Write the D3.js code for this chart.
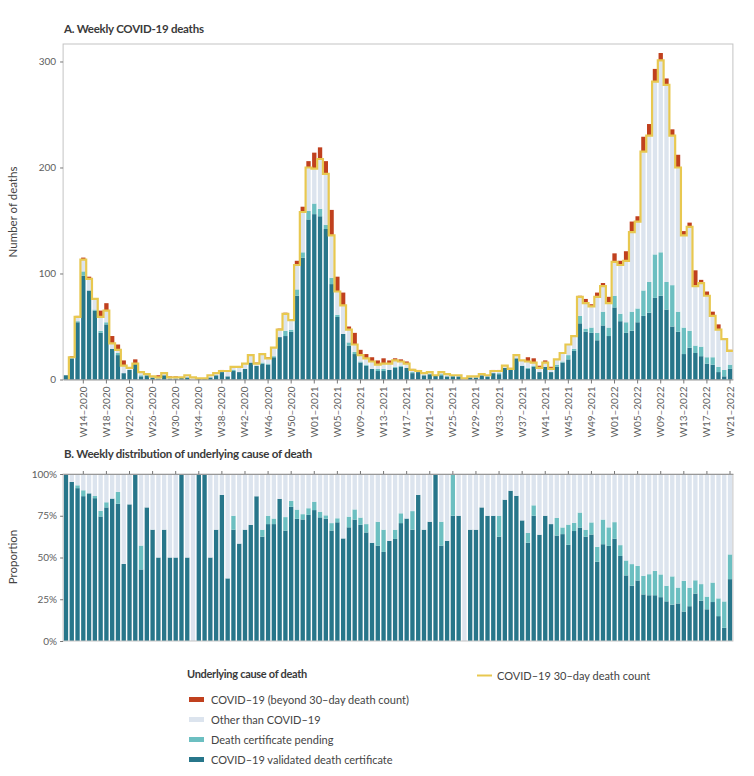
<!DOCTYPE html>
<html><head><meta charset="utf-8">
<script src="https://cdn.jsdelivr.net/npm/d3@7"></script>
<style>
body{margin:0;background:#fff;}
text{font-family:Lato,"Open Sans",sans-serif;}
</style>
</head><body>
<svg id="c" width="754" height="776"></svg>
<script>
// ---- data (W11-2020 ... W21-2022) ----
const validated = [4,20,54,98,84,65,44,52,29,23, 6,9,15,3,4,2,1,4,1,1, 2,2,0,1,1,2,4,7,3,8, 7,10,16,13,15,14,21,40,41,45,
 79,115,151,156,154,142,90,59,43,32, 24,16,13,10,8,8,9,11,12,11, 6,7,4,5,4,4,3,3,3,0, 2,2,4,3,6,5,11,9,20,13,
 10,12,7,12,7,12,16,19,27,53, 45,44,37,51,41,68,55,44,46,54, 60,63,77,79,66,50,45,24,30,25, 22,15,14,7,3,10];
const pending = [0,0,1,4,0,1,2,2,0,2, 0,0,0,1,0,0,0,0,0,0, 0,0,0,0,0,0,0,0,0,1, 0,0,0,0,1,1,1,0,5,2,
 6,5,8,10,7,4,6,2,0,3, 2,1,1,0,2,2,0,1,1,0, 1,0,0,0,0,1,0,1,0,0, 0,0,0,0,0,1,0,0,0,0,
 1,1,0,0,0,2,1,4,2,7, 3,5,7,13,8,11,7,10,18,13, 24,29,41,41,26,39,19,25,16,7, 9,6,7,5,6,4];
const other = [0,1,4,11,11,10,13,11,5,3, 7,2,0,3,1,1,1,2,1,1, 0,2,2,0,0,2,2,1,5,3, 5,5,7,2,8,5,8,7,16,9,
 23,38,41,33,47,48,40,22,27,12, 7,6,6,7,4,5,6,6,4,4, 2,1,2,2,0,2,2,0,1,1, 1,1,1,1,2,2,2,1,3,5,
 6,3,4,4,3,5,8,10,12,18, 24,20,34,24,23,32,46,58,75,82, 131,138,163,181,186,141,136,87,98,56, 60,58,39,35,29,13];
const beyond = [0,1,1,2,2,0,6,7,7,5, 5,0,4,0,0,0,2,0,1,1, 0,0,0,0,0,0,0,1,0,0, 0,0,0,1,0,1,0,1,1,0,
 4,5,6,15,11,12,24,14,12,3, 11,5,4,4,4,5,3,2,2,2, 1,1,1,1,0,1,0,0,0,0, 0,0,1,0,1,1,0,1,0,0,
 4,4,2,2,2,0,0,0,0,1, 4,2,4,3,6,8,4,9,10,5, 14,11,12,7,6,6,12,4,4,15, 3,4,4,5,0,1];
const tickWeeks = ["W14–2020","W18–2020","W22–2020","W26–2020","W30–2020","W34–2020","W38–2020","W42–2020","W46–2020","W50–2020",
 "W01–2021","W05–2021","W09–2021","W13–2021","W17–2021","W21–2021","W25–2021","W29–2021","W33–2021","W37–2021","W41–2021","W45–2021","W49–2021",
 "W01–2022","W05–2022","W09–2022","W13–2022","W17–2022","W21–2022"];
const yTicksA = [0,100,200,300];
const yTicksB = [0,0.25,0.5,0.75,1];
const weeks = [];
[[2020,11,53],[2021,1,52],[2022,1,21]].forEach(([yr,a,b])=>{for(let w=a;w<=b;w++)weeks.push(`W${String(w).padStart(2,"0")}–${yr}`);});

const colors = {validated:"#27768a", pending:"#6cbfc1", other:"#dce4ee", beyond:"#c0401e", line:"#e8c850"};
const rows = weeks.map((w,i)=>({week:w, validated:validated[i], pending:pending[i], other:other[i], beyond:beyond[i],
  total30: validated[i]+pending[i]+other[i]}));

const svg = d3.select("#c");
const L = 63.1, R = 732.9;
const x = d3.scaleBand().domain(weeks).range([L,R]).paddingInner(0.25).paddingOuter(0.125);
const step = x.step(), gap = step*0.25/2;

// ---------- Panel A ----------
const yA = d3.scaleLinear().domain([0,316.5]).range([379.5,44]);
const gA = svg.append("g");
gA.append("text").attr("x",64).attr("y",33).attr("font-size",11.5).attr("font-weight",700).attr("letter-spacing",-0.25).attr("fill","#3a3a3a")
  .text("A. Weekly COVID-19 deaths");
gA.append("rect").attr("x",L).attr("y",44).attr("width",R-L).attr("height",379.5-44).attr("fill","none").attr("stroke","#c4c4c4");

const keysA = ["validated","pending","other","beyond"];
const stackA = d3.stack().keys(keysA)(rows);
stackA.forEach(s=>{
  gA.append("g").selectAll("rect").data(s).join("rect")
    .attr("x",d=>x(d.data.week)).attr("width",x.bandwidth())
    .attr("y",d=>yA(d[1])).attr("height",d=>Math.max(0,yA(d[0])-yA(d[1])))
    .attr("fill",colors[s.key]);
});
// 30-day count step line (starts at W12-2020)
const pts = [];
rows.forEach((r,i)=>{
  if(i===0) return;
  const x0 = x(r.week)-gap, x1 = x(r.week)+x.bandwidth()+gap;
  if(i===1) pts.push([x0,yA(0)]);
  pts.push([x0,yA(r.total30)],[x1,yA(r.total30)]);
});
gA.append("path").attr("d",d3.line()(pts)).attr("fill","none").attr("stroke",colors.line).attr("stroke-width",2.2).attr("stroke-linejoin","miter");

const axA = gA.append("g").attr("transform","translate(0,379.5)").call(d3.axisBottom(x).tickValues(tickWeeks).tickSize(4).tickSizeOuter(0));
axA.select(".domain").attr("stroke","#999");
axA.selectAll(".tick line").attr("stroke","#777");
axA.selectAll(".tick text").attr("font-size",10).attr("fill","#606060").attr("font-family","Lato,sans-serif")
  .attr("transform","rotate(-90)").attr("text-anchor","end").attr("x",-7).attr("y",0).attr("dy","0.35em");
const ayA = gA.append("g").attr("transform",`translate(${L},0)`).call(d3.axisLeft(yA).tickValues(yTicksA).tickSize(3));
ayA.select(".domain").remove();
ayA.selectAll(".tick line").attr("stroke","#777");
ayA.selectAll(".tick text").attr("font-size",10).attr("fill","#606060").attr("font-family","Lato,sans-serif").attr("x",-7);
gA.append("text").attr("transform","translate(17,212) rotate(-90)").attr("text-anchor","middle").attr("font-size",11.5).attr("fill","#444").text("Number of deaths");

// ---------- Panel B ----------
const yB = d3.scaleLinear().domain([0,1]).range([641,474]);
const gB = svg.append("g");
gB.append("text").attr("x",64).attr("y",458).attr("font-size",11.5).attr("font-weight",700).attr("letter-spacing",-0.25).attr("fill","#3a3a3a")
  .text("B. Weekly distribution of underlying cause of death");
const shares = rows.map(r=>({week:r.week, validated:r.validated/r.total30, pending:r.pending/r.total30, other:r.other/r.total30}));
const stackB = d3.stack().keys(["validated","pending","other"])(shares);
stackB.forEach(s=>{
  gB.append("g").selectAll("rect").data(s).join("rect")
    .attr("x",d=>x(d.data.week)).attr("width",x.bandwidth())
    .attr("y",d=>yB(d[1])).attr("height",d=>Math.max(0,yB(d[0])-yB(d[1])))
    .attr("fill",colors[s.key]);
});
gB.append("rect").attr("x",L).attr("y",474).attr("width",R-L).attr("height",641-474).attr("fill","none").attr("stroke","#c4c4c4");
const axB = gB.append("g").attr("transform","translate(0,474)").call(d3.axisTop(x).tickValues(tickWeeks).tickSize(3).tickSizeOuter(0).tickFormat(""));
axB.select(".domain").attr("stroke","#999");
axB.selectAll(".tick line").attr("stroke","#777");
const ayB = gB.append("g").attr("transform",`translate(${L},0)`).call(d3.axisLeft(yB).tickValues(yTicksB).tickSize(3).tickFormat(d3.format(".0%")));
ayB.select(".domain").remove();
ayB.selectAll(".tick line").attr("stroke","#777");
ayB.selectAll(".tick text").attr("font-size",10).attr("fill","#606060").attr("font-family","Lato,sans-serif").attr("x",-6);
gB.append("text").attr("transform","translate(17,557) rotate(-90)").attr("text-anchor","middle").attr("font-size",11.5).attr("fill","#444").text("Proportion");

// ---------- Legend ----------
const lg = svg.append("g");
lg.append("text").attr("x",187).attr("y",678).attr("font-size",11).attr("font-weight",700).attr("letter-spacing",-0.3).attr("fill","#3a3a3a").text("Underlying cause of death");
const legItems = [["beyond","COVID–19 (beyond 30–day death count)"],["other","Other than COVID–19"],["pending","Death certificate pending"],["validated","COVID–19 validated death certificate"]];
legItems.forEach(([k,t],i)=>{
  const yy = 700 + i*20;
  lg.append("rect").attr("x",189).attr("y",yy-3).attr("width",15).attr("height",5).attr("fill",colors[k]);
  lg.append("text").attr("x",211).attr("y",yy+4).attr("font-size",11).attr("fill","#444").text(t);
});
lg.append("line").attr("x1",477).attr("x2",492).attr("y1",675.5).attr("y2",675.5).attr("stroke",colors.line).attr("stroke-width",2);
lg.append("text").attr("x",497).attr("y",679.5).attr("font-size",11).attr("fill","#444").text("COVID–19 30–day death count");
</script>
</body></html>
